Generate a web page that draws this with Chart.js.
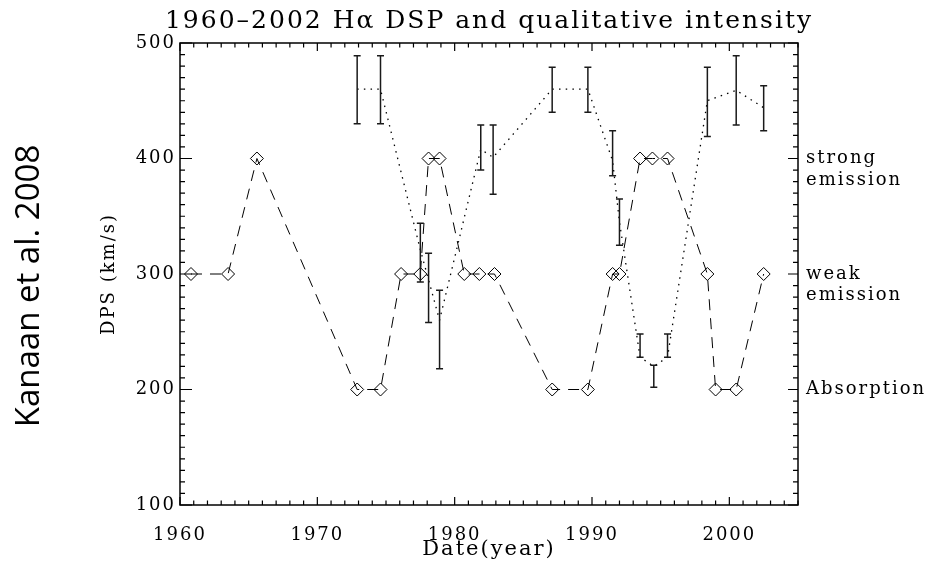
<!DOCTYPE html>
<html>
<head>
<meta charset="utf-8">
<script src="https://cdn.jsdelivr.net/npm/chart.js@4.4.0/dist/chart.umd.min.js"></script>
<style>
  html, body { margin: 0; padding: 0; background: #fff; }
</style>
</head>
<body>
<canvas id="chart" width="931" height="568"></canvas>
<script>
// qualitative intensity (diamonds, dashed line)
const intensityYears = [1960.8, 1963.5, 1965.6, 1972.9, 1974.6, 1976.1, 1977.5, 1978.1, 1978.9, 1980.7, 1981.8, 1982.9,
  1987.1, 1989.7, 1991.5, 1992.0, 1993.5, 1994.4, 1995.5, 1998.4, 1999.0, 2000.5, 2002.5];
const intensityValues = [300, 300, 400, 200, 200, 300, 300, 400, 400, 300, 300, 300,
  200, 200, 300, 300, 400, 400, 400, 300, 200, 200, 300];

// H-alpha DSP with error bars (dotted line)
const dspYears = [1972.9, 1974.6, 1977.5, 1978.1, 1978.9, 1981.9, 1982.8, 1987.1, 1989.7, 1991.5, 1992.0,
  1993.5, 1994.5, 1995.5, 1998.4, 2000.5, 2002.5];
const dspValues = [460, 460, 321, 295, 260, 408, 401, 460, 460, 398, 345, 228, 220, 228, 450, 459, 444];
const dspLow = [430, 430, 293, 258, 218, 390, 369, 440, 440, 385, 325, 228, 202, 228, 419, 429, 424];
const dspHigh = [489, 489, 344, 318, 286, 429, 429, 479, 479, 424, 365, 248, 221, 248, 479, 489, 463];

// right-hand axis labels
const rightTickValues = [200, 300, 400];
const rightTickLabels = [['Absorption'], ['', 'weak', 'emission'], ['', 'strong', 'emission']];

const serif = 'DejaVu Serif';

// the plot fonts are drawn with a little extra spacing, like the original
const wideText = {
  id: 'wideText',
  beforeDraw(chart) {
    chart.ctx.letterSpacing = '2px';
  }
};

// vertical error bars with small caps
const errorBars = {
  id: 'errorBars',
  afterDatasetsDraw(chart) {
    const { ctx, scales: { x, y } } = chart;
    ctx.save();
    ctx.strokeStyle = '#1a1a1a';
    ctx.lineWidth = 1.5;
    dspYears.forEach((yr, i) => {
      const px = x.getPixelForValue(yr);
      const top = y.getPixelForValue(dspHigh[i]);
      const bot = y.getPixelForValue(dspLow[i]);
      ctx.beginPath();
      ctx.moveTo(px, top); ctx.lineTo(px, bot);
      ctx.moveTo(px - 3.5, top); ctx.lineTo(px + 3.5, top);
      ctx.moveTo(px - 3.5, bot); ctx.lineTo(px + 3.5, bot);
      ctx.stroke();
    });
    ctx.restore();
  }
};

// IDL style box with inward ticks on all four sides
const idlFrame = {
  id: 'idlFrame',
  afterDraw(chart) {
    const { ctx, chartArea: a, scales: { x, y } } = chart;
    ctx.save();
    ctx.strokeStyle = '#000';
    ctx.lineWidth = 1.5;
    ctx.strokeRect(a.left, a.top, a.right - a.left, a.bottom - a.top);
    ctx.lineWidth = 1.2;
    ctx.beginPath();
    for (let yr = 1960; yr <= 2005; yr++) {
      const px = x.getPixelForValue(yr);
      const len = yr % 10 === 0 ? 8 : 4.5;
      ctx.moveTo(px, a.bottom); ctx.lineTo(px, a.bottom - len);
      ctx.moveTo(px, a.top); ctx.lineTo(px, a.top + len);
    }
    for (let v = 100; v <= 500; v += 10) {
      const py = y.getPixelForValue(v);
      const major = v % 100 === 0;
      ctx.moveTo(a.left, py); ctx.lineTo(a.left + (major ? 12 : 5), py);
      ctx.moveTo(a.right, py); ctx.lineTo(a.right - (major ? 10 : 5), py);
    }
    ctx.stroke();
    ctx.restore();
  }
};

// side note written vertically at the far left
const sideNote = {
  id: 'sideNote',
  afterDraw(chart) {
    const ctx = chart.ctx;
    ctx.save();
    ctx.letterSpacing = '0px';
    ctx.translate(30, 286);
    ctx.rotate(-Math.PI / 2);
    ctx.font = '33px "Open Sans"';
    ctx.fillStyle = '#000';
    ctx.textAlign = 'center';
    ctx.textBaseline = 'middle';
    ctx.fillText('Kanaan et al. 2008', 0, 0);
    ctx.restore();
  }
};

new Chart(document.getElementById('chart').getContext('2d'), {
  type: 'line',
  data: {
    datasets: [
      {
        label: 'qualitative intensity',
        data: intensityYears.map((yr, i) => ({ x: yr, y: intensityValues[i] })),
        borderColor: '#000',
        borderWidth: 1,
        borderDash: [11, 8],
        pointStyle: 'rectRot',
        pointRadius: 6.5,
        pointBorderWidth: 1,
        pointBorderColor: '#000',
        pointBackgroundColor: 'rgba(0,0,0,0)',
        tension: 0,
        fill: false
      },
      {
        label: 'DSP',
        data: dspYears.map((yr, i) => ({ x: yr, y: dspValues[i] })),
        borderColor: '#000',
        borderWidth: 1.3,
        borderDash: [1.5, 5.2],
        pointRadius: 0,
        tension: 0,
        fill: false
      }
    ]
  },
  options: {
    responsive: false,
    animation: false,
    layout: { padding: { left: 47, top: 0, right: 0, bottom: 0 } },
    plugins: {
      legend: { display: false },
      tooltip: { enabled: false },
      title: {
        display: true,
        text: '1960\u20132002 H\u03b1 DSP and qualitative intensity',
        color: '#000',
        font: { family: serif, size: 25, weight: 'normal' },
        padding: { top: 6, bottom: 7 }
      }
    },
    scales: {
      x: {
        type: 'linear',
        position: 'bottom',
        min: 1960,
        max: 2005,
        grid: { display: false, drawTicks: false },
        border: { display: false },
        ticks: {
          stepSize: 10,
          includeBounds: false,
          padding: 20,
          color: '#000',
          font: { family: serif, size: 18 },
          callback: v => String(v)
        },
        title: {
          display: true,
          text: 'Date(year)',
          color: '#000',
          font: { family: serif, size: 21 },
          padding: { top: 0, bottom: 6 }
        },
        afterFit: s => { s.height = 63; }
      },
      y: {
        position: 'left',
        min: 100,
        max: 500,
        grid: { display: false, drawTicks: false },
        border: { display: false },
        ticks: {
          stepSize: 100,
          padding: 4,
          color: '#000',
          font: { family: serif, size: 18 }
        },
        title: {
          display: true,
          text: 'DPS (km/s)',
          color: '#000',
          font: { family: serif, size: 18 },
          padding: { top: 52, bottom: 0 }
        },
        afterFit: s => { s.width = 133; }
      },
      y2: {
        position: 'right',
        min: 100,
        max: 500,
        grid: { display: false, drawTicks: false },
        border: { display: false },
        afterBuildTicks: s => { s.ticks = rightTickValues.map(v => ({ value: v })); },
        ticks: {
          padding: 8,
          color: '#000',
          font: { family: serif, size: 18 },
          callback: v => rightTickLabels[rightTickValues.indexOf(v)]
        },
        afterFit: s => { s.width = 133; }
      }
    }
  },
  plugins: [wideText, errorBars, idlFrame, sideNote]
});
</script>
</body>
</html>
